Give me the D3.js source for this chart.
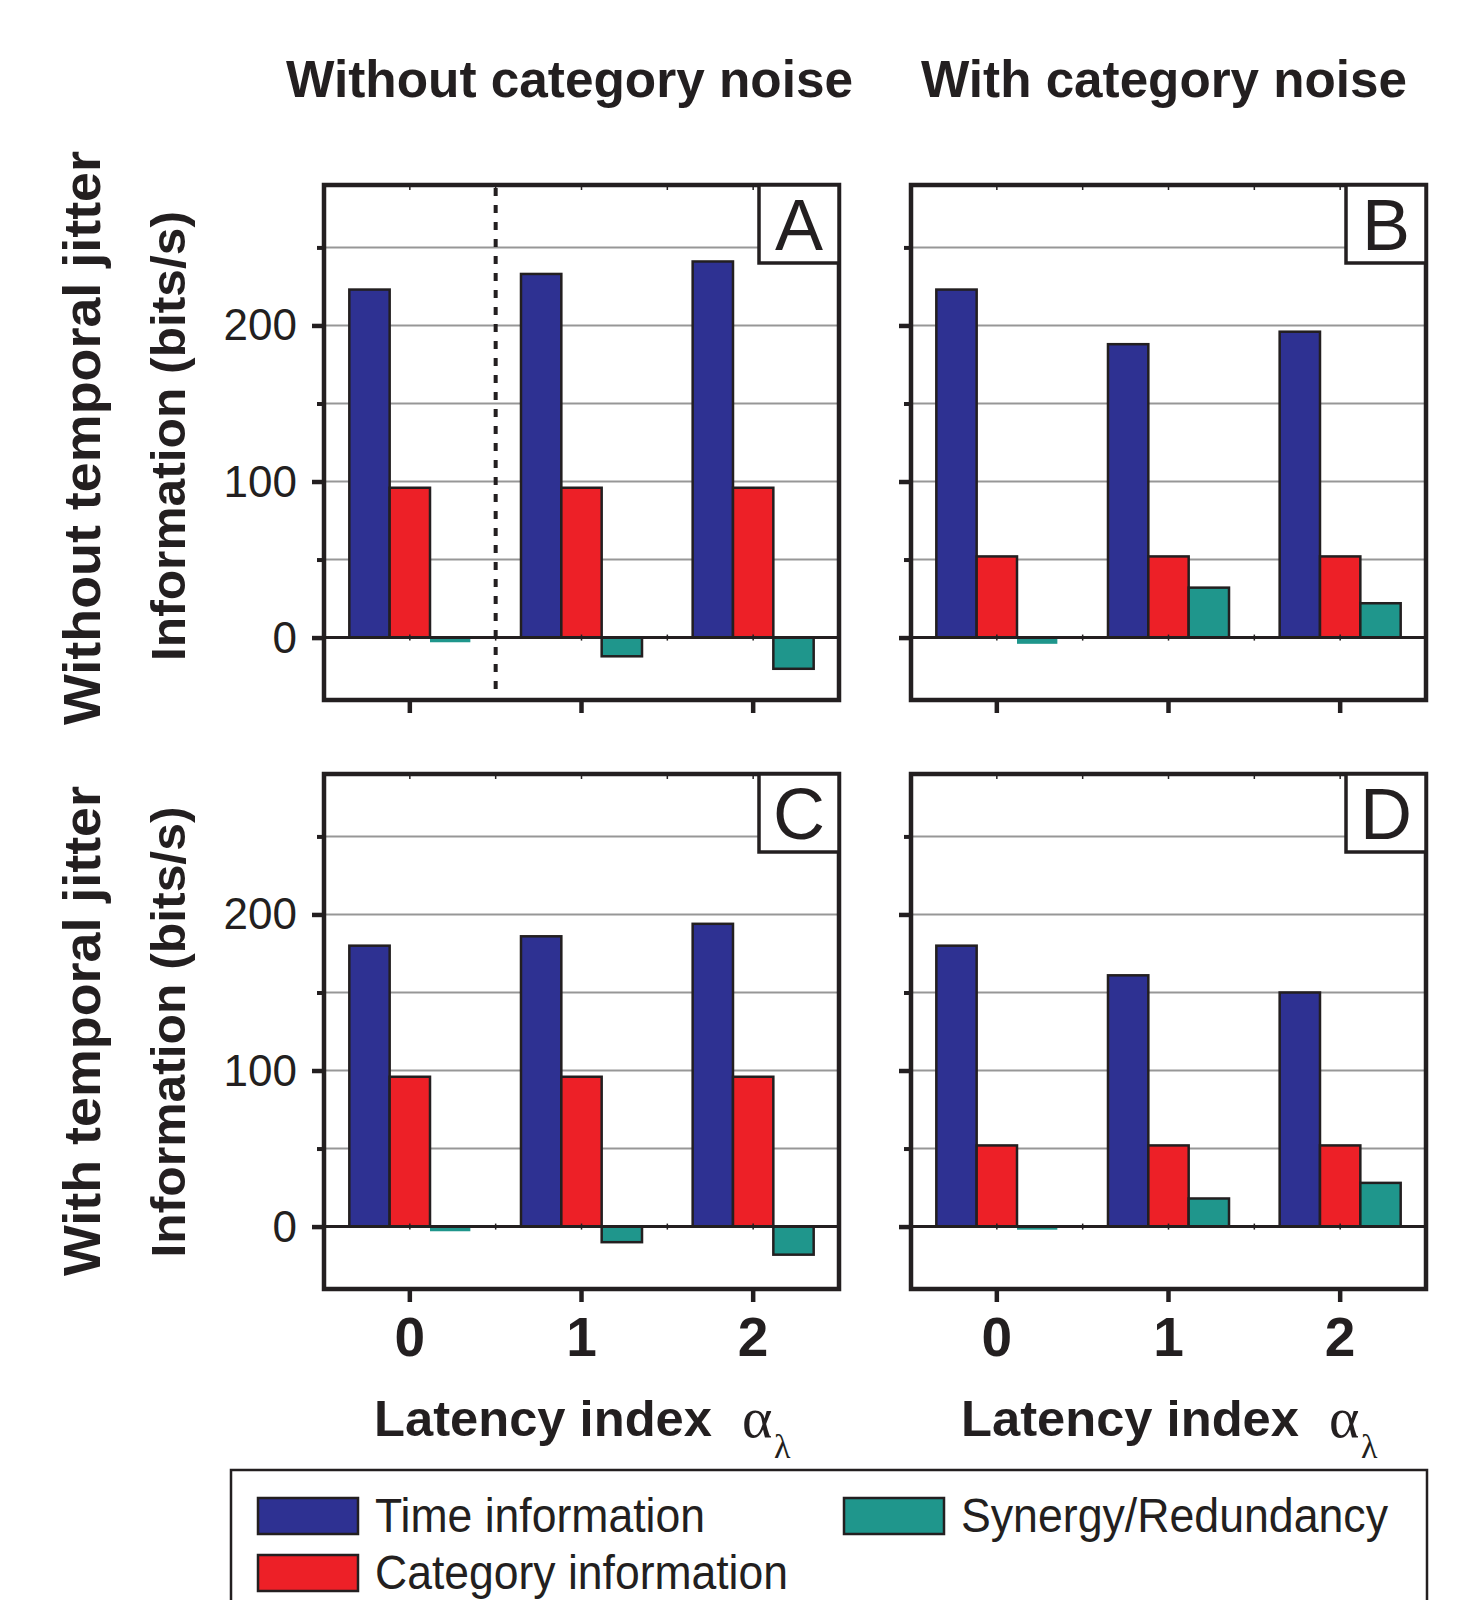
<!DOCTYPE html>
<html><head><meta charset="utf-8">
<script src="https://cdn.jsdelivr.net/npm/d3@7"></script>
<style>body{margin:0;background:#fff;} svg{display:block;}</style>
</head><body>
<svg id="chart" width="1476" height="1600"></svg>
<script>
// ---------- data ----------
const categories = ["0", "1", "2"];
const seriesNames = ["Time information", "Category information", "Synergy/Redundancy"];
const seriesColors = ["#2e3192", "#ed2027", "#1f968c"];
const panelLetters = ["A", "B", "C", "D"];
const columnTitles = ["Without category noise", "With category noise"];
const rowTitles = ["Without temporal jitter", "With temporal jitter"];
const yAxisTitle = "Information (bits/s)";
const xAxisTitle = "Latency index";
const yMajorTicks = [0, 100, 200];
const yMinorTicks = [50, 150, 250];
const yGridValues = [50, 100, 150, 200, 250];

const timeA = [223, 233, 241], catA = [96, 96, 96], synA = [-3, -12, -20];
const timeB = [223, 188, 196], catB = [52, 52, 52], synB = [-4, 32, 22];
const timeC = [180, 186, 194], catC = [96, 96, 96], synC = [-3, -10, -18];
const timeD = [180, 161, 150], catD = [52, 52, 52], synD = [-2, 18, 28];

const panels = [
  {letter: panelLetters[0], row: 0, col: 0, series: [timeA, catA, synA], divider: true},
  {letter: panelLetters[1], row: 0, col: 1, series: [timeB, catB, synB], divider: false},
  {letter: panelLetters[2], row: 1, col: 0, series: [timeC, catC, synC], divider: false},
  {letter: panelLetters[3], row: 1, col: 1, series: [timeD, catD, synD], divider: false}
];

// ---------- layout ----------
const INK = "#231f20";
const FONT = "'Liberation Sans', Arial, Helvetica, sans-serif";
const SERIF = "'Liberation Serif', 'Times New Roman', serif";
const panelW = 515, panelH = 515;
const colX = [324, 911];
const rowY = [185, 774];

const svg = d3.select("#chart");

const y = d3.scaleLinear().domain([-40, 290]).range([panelH, 0]);
const x0 = d3.scaleBand().domain(categories).range([0, panelW]).padding(0);
const bw = x0.bandwidth();
const groupW = bw * 0.705;
const x1 = d3.scaleBand().domain(d3.range(seriesNames.length))
  .range([(bw - groupW) / 2, (bw + groupW) / 2]).padding(0);

panels.forEach(p => {
  const g = svg.append("g").attr("transform", `translate(${colX[p.col]},${rowY[p.row]})`);

  // gridlines
  g.selectAll("line.grid").data(yGridValues).join("line")
    .attr("class", "grid")
    .attr("x1", 0).attr("x2", panelW)
    .attr("y1", d => y(d)).attr("y2", d => y(d))
    .attr("stroke", "#979797").attr("stroke-width", 2);

  // bars
  const rows = categories.map((c, i) => ({cat: c, vals: p.series.map(s => s[i])}));
  const grp = g.selectAll("g.grp").data(rows).join("g")
    .attr("transform", d => `translate(${x0(d.cat)},0)`);
  grp.selectAll("rect").data(d => d.vals.map((v, k) => ({v, k}))).join("rect")
    .attr("x", d => x1(d.k))
    .attr("width", x1.bandwidth())
    .attr("y", d => y(Math.max(0, d.v)))
    .attr("height", d => Math.abs(y(d.v) - y(0)))
    .attr("fill", d => seriesColors[d.k])
    .attr("stroke", d => Math.abs(d.v) < 5 ? "none" : INK)
    .attr("stroke-width", 2.5);

  // zero line
  g.append("line").attr("x1", 0).attr("x2", panelW)
    .attr("y1", y(0)).attr("y2", y(0))
    .attr("stroke", INK).attr("stroke-width", 3);

  // small inner ticks at top border and on zero line
  const innerTicks = [bw / 2, bw, bw * 1.5, bw * 2, bw * 2.5];
  g.selectAll("line.itop").data(innerTicks).join("line")
    .attr("x1", d => d).attr("x2", d => d).attr("y1", 0).attr("y2", 5)
    .attr("stroke", INK).attr("stroke-width", 1.5);
  g.selectAll("line.izero").data(innerTicks).join("line")
    .attr("x1", d => d).attr("x2", d => d).attr("y1", y(0) - 3).attr("y2", y(0) + 3)
    .attr("stroke", INK).attr("stroke-width", 1.5);

  // dotted divider (panel A)
  if (p.divider) {
    g.append("line").attr("x1", x0(categories[1])).attr("x2", x0(categories[1]))
      .attr("y1", 3).attr("y2", panelH - 3)
      .attr("stroke", INK).attr("stroke-width", 4).attr("stroke-dasharray", "8,9");
  }

  // border
  g.append("rect").attr("x", 0).attr("y", 0).attr("width", panelW).attr("height", panelH)
    .attr("fill", "none").attr("stroke", INK).attr("stroke-width", 4.5);

  // y axis major
  const yMaj = g.append("g").call(
    d3.axisLeft(y).tickValues(yMajorTicks).tickSize(12).tickPadding(15)
      .tickFormat(p.col === 0 ? d3.format("d") : () => ""));
  yMaj.select(".domain").remove();
  yMaj.selectAll("line").attr("stroke", INK).attr("stroke-width", 4.5);
  yMaj.selectAll("text").attr("font-family", FONT).attr("font-size", 44)
    .attr("fill", INK).attr("dy", "0.33em");

  // y axis minor
  const yMin = g.append("g").call(
    d3.axisLeft(y).tickValues(yMinorTicks).tickSize(7).tickFormat(() => ""));
  yMin.select(".domain").remove();
  yMin.selectAll("line").attr("stroke", INK).attr("stroke-width", 4);

  // x axis
  const xAx = g.append("g").attr("transform", `translate(0,${panelH})`).call(
    d3.axisBottom(x0).tickSize(13).tickPadding(14)
      .tickFormat(p.row === 1 ? d => d : () => ""));
  xAx.select(".domain").remove();
  xAx.selectAll("line").attr("stroke", INK).attr("stroke-width", 4.5);
  xAx.selectAll("text").attr("font-family", FONT).attr("font-size", 55)
    .attr("font-weight", "bold").attr("fill", INK).attr("dy", "0.72em");

  // panel letter box
  const boxW = 80, boxH = 78;
  g.append("rect").attr("x", panelW - boxW).attr("y", 0)
    .attr("width", boxW).attr("height", boxH)
    .attr("fill", "#fff").attr("stroke", INK).attr("stroke-width", 3.5);
  g.append("text").attr("x", panelW - boxW / 2).attr("y", 65)
    .attr("text-anchor", "middle").attr("font-family", FONT)
    .attr("font-size", 72).attr("fill", INK).text(p.letter);
});

// column titles
const colTitleSpec = [{x: 286, len: 567}, {x: 921, len: 486}];
columnTitles.forEach((t, i) => {
  svg.append("text").attr("x", colTitleSpec[i].x).attr("y", 97)
    .attr("font-family", FONT).attr("font-weight", "bold").attr("font-size", 52)
    .attr("fill", INK).attr("textLength", colTitleSpec[i].len)
    .attr("lengthAdjust", "spacingAndGlyphs").text(t);
});

// row titles + y axis titles
const rowTitleSpec = [{c: 438, len: 574}, {c: 1031, len: 490}];
const yTitleSpec = [{c: 436, len: 450}, {c: 1032, len: 451}];
rowTitles.forEach((t, i) => {
  svg.append("text").attr("transform", `translate(100,${rowTitleSpec[i].c}) rotate(-90)`)
    .attr("text-anchor", "middle").attr("font-family", FONT).attr("font-weight", "bold")
    .attr("font-size", 52).attr("fill", INK)
    .attr("textLength", rowTitleSpec[i].len).attr("lengthAdjust", "spacingAndGlyphs").text(t);
  svg.append("text").attr("transform", `translate(185,${yTitleSpec[i].c}) rotate(-90)`)
    .attr("text-anchor", "middle").attr("font-family", FONT).attr("font-weight", "bold")
    .attr("font-size", 48).attr("fill", INK)
    .attr("textLength", yTitleSpec[i].len).attr("lengthAdjust", "spacingAndGlyphs").text(yAxisTitle);
});

// x axis titles
colX.forEach(cx => {
  svg.append("text").attr("x", cx + 50).attr("y", 1436)
    .attr("font-family", FONT).attr("font-weight", "bold").attr("font-size", 50)
    .attr("fill", INK).attr("textLength", 338).attr("lengthAdjust", "spacingAndGlyphs")
    .text(xAxisTitle);
  svg.append("text").attr("x", cx + 418).attr("y", 1437)
    .attr("font-family", SERIF).attr("font-size", 58)
    .attr("fill", INK).text("\u03b1");
  svg.append("text").attr("x", cx + 450).attr("y", 1458)
    .attr("font-family", SERIF).attr("font-size", 34)
    .attr("fill", INK).text("\u03bb");
});

// legend
svg.append("path").attr("d", "M231,1601 V1470 H1427 V1601")
  .attr("fill", "none").attr("stroke", INK).attr("stroke-width", 2.5);
const legendSpec = [
  {x: 258, y: 1498, len: 330},
  {x: 258, y: 1555, len: 413},
  {x: 844, y: 1498, len: 427}
];
seriesNames.forEach((name, i) => {
  const s = legendSpec[i];
  svg.append("rect").attr("x", s.x).attr("y", s.y).attr("width", 100).attr("height", 36)
    .attr("fill", seriesColors[i]).attr("stroke", INK).attr("stroke-width", 2.5);
  svg.append("text").attr("x", s.x + 117).attr("y", s.y + 34)
    .attr("font-family", FONT).attr("font-size", 48).attr("fill", INK)
    .attr("textLength", s.len).attr("lengthAdjust", "spacingAndGlyphs").text(name);
});
</script>
</body></html>
